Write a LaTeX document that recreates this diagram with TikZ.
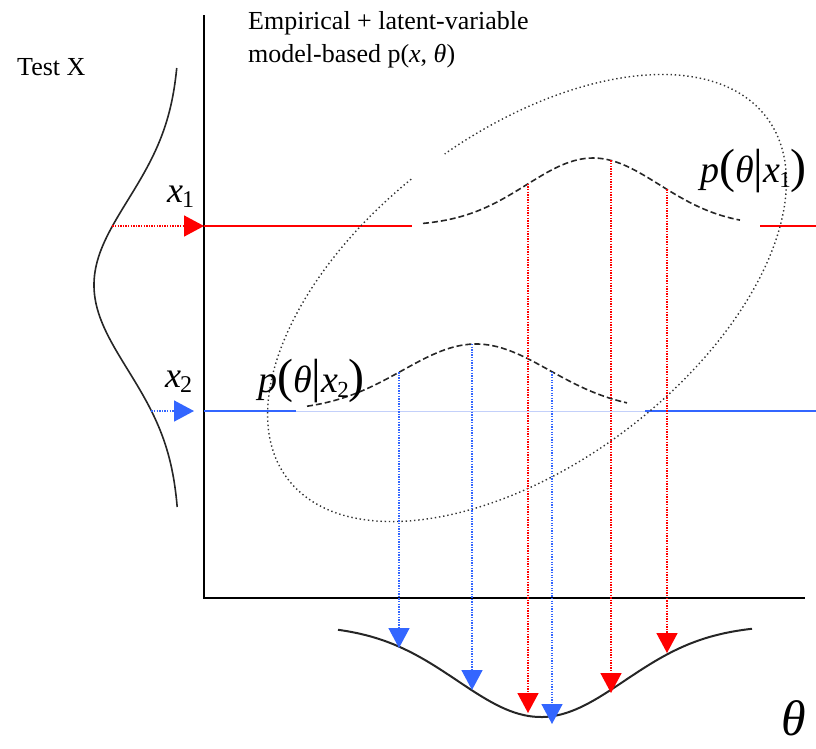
\documentclass[tikz,border=0pt]{standalone}
\usepackage{fontspec}
\setmainfont{Liberation Serif}
\usepackage{tikz}
\usetikzlibrary{arrows.meta}
\definecolor{biru}{RGB}{51,102,255}
\definecolor{birumuda}{RGB}{195,208,250}
\newcommand{\besar}[1]{{\fontsize{48}{48}\selectfont #1}}
\newcommand{\varx}[1]{{\fontsize{36}{36}\selectfont\textit{x}\kern-1pt\raisebox{-5pt}{\fontsize{24}{24}\selectfont #1}}}
\newcommand{\pkond}[1]{{\fontsize{38}{38}\selectfont\textit{p}\besar{(}\textit{θ}\besar{|}\textit{x}\kern-1pt\raisebox{-5pt}{\fontsize{23}{23}\selectfont #1}\besar{)}}}

\begin{document}
\begin{tikzpicture}[
    x=1pt, y=1pt,
    declare function={bell(\t,\m,\s)=exp(-((\t-\m)/\s)*((\t-\m)/\s));},
    teks/.style={inner sep=0pt, font=\fontsize{26}{33}\selectfont},
    label/.style={inner sep=0pt, anchor=base west},
    sumbu/.style={line width=1.6pt},
    kurva/.style={line width=1.6pt, black!85},
    kurvaputus/.style={kurva, dash pattern=on 6pt off 3pt},
    elips/.style={line width=1.4pt, black!80, dash pattern=on 1.4pt off 2.8pt},
    titik/.style={line width=1.6pt, dash pattern=on 1.3pt off 1.3pt},
    panah/.style={titik, -{Triangle[length=20pt, width=21pt]}},
    garis/.style={line width=2.2pt}
  ]
    \useasboundingbox (0,0) rectangle (816,-748);

    \coordinate (atas) at (204,-15);
    \coordinate (asal) at (204,-598);
    \coordinate (kanan) at (805,-598);
    \draw[sumbu] (atas) -- (asal) -- (kanan);

    \node[teks, anchor=base west] (tes) at (17,-75) {Test X};
    \node[teks, anchor=north west, align=left] (judul) at (248,-11)
      {Empirical + latent-variable\\model-based p(\textit{x}, \textit{θ})};

    \draw[kurva] plot[domain=68:507, samples=90, smooth] ({180-86*bell(\x,285,120)}, -\x);
    \coordinate (px1) at ({180-86*bell(226,285,120)}, -226);
    \coordinate (px2) at ({180-86*bell(411,285,120)}, -411);
    \coordinate (sx1) at (204,-226);
    \coordinate (ux2) at (194,-411);
    \coordinate (sx2) at (204,-411);
    \draw[panah, red] (px1) -- (sx1);
    \draw[panah, biru] (px2) -- (ux2);
    \node[label] (lx1) at (167,-202) {\varx{1}};
    \node[label] (lx2) at (165,-387) {\varx{2}};

    \coordinate (m1a) at (412,-226);
    \coordinate (m1b) at (760,-226);
    \coordinate (m1c) at (816,-226);
    \draw[garis, red] (sx1) -- (m1a);
    \draw[garis, red] (m1b) -- (m1c);
    \coordinate (b2a) at (296,-411);
    \coordinate (b2b) at (645,-411);
    \coordinate (b2c) at (816,-411);
    \draw[birumuda, line width=1pt] (b2a) -- (b2b);
    \draw[garis, biru] (sx2) -- (b2a);
    \draw[garis, biru] (b2b) -- (b2c);

    \draw[kurvaputus] plot[domain=423:740, samples=70] (\x, {-(226-68*bell(\x,593,94))});
    \draw[kurvaputus] plot[domain=307:627, samples=70] (\x, {-(411-67*bell(\x,476,104))});
    \draw[kurva, line width=2pt] plot[domain=338:752, samples=90] (\x, {-(625+92*bell(\x,541,118))});

    \begin{scope}[shift={(527,-298)}, rotate=37]
      \draw[elips] (94:300 and 165) arc[start angle=94, end angle=446, x radius=300, y radius=165];
    \end{scope}

    \foreach \i/\xx/\yy in {1/528/713, 2/611/693, 3/667/653} {
      \coordinate (r\i) at (\xx, {-(226-68*bell(\xx,593,94))});
      \coordinate (rb\i) at (\xx, -\yy);
      \draw[panah, red] (r\i) -- (rb\i);
    }
    \foreach \i/\xx/\yy in {1/399/648, 2/472/690, 3/552/724} {
      \coordinate (b\i) at (\xx, {-(411-67*bell(\xx,476,104))});
      \coordinate (bb\i) at (\xx, -\yy);
      \draw[panah, biru] (b\i) -- (bb\i);
    }

    \node[label] (lp1) at (700,-182) {\pkond{1}};
    \node[label] (lp2) at (258,-392) {\pkond{2}};
    \node[label] (theta) at (781,-735) {\fontsize{50}{50}\selectfont\textit{θ}};
  \end{tikzpicture}
\end{document}
